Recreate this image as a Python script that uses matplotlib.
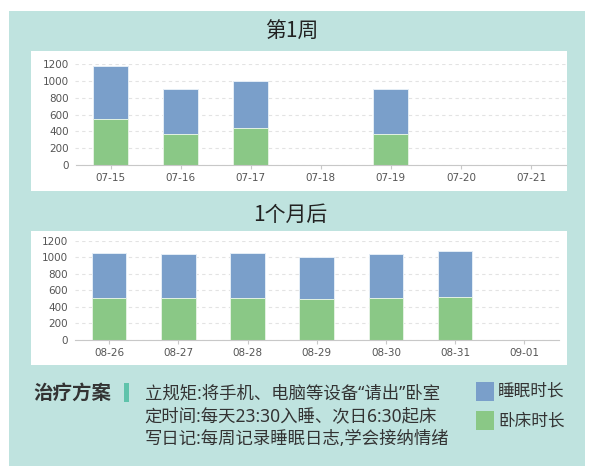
import matplotlib

matplotlib.use("Agg")
import matplotlib.pyplot as plt
from matplotlib.patches import Rectangle

plt.rcParams["font.family"] = ["Noto Sans CJK SC", "DejaVu Sans"]

# week 1 (minutes)
week1_days = ["07-15", "07-16", "07-17", "07-18", "07-19", "07-20", "07-21"]
week1_sleep = [1180, 903, 1001, 0, 903, 0, 0]
week1_bed = [543, 365, 443, 0, 368, 0, 0]

# one month later
month_days = ["08-26", "08-27", "08-28", "08-29", "08-30", "08-31", "09-01"]
month_sleep = [1054, 1035, 1047, 1003, 1035, 1075, 0]
month_bed = [511, 503, 511, 491, 503, 523, 0]

y_ticks = [0, 200, 400, 600, 800, 1000, 1200]

plan_title = "治疗方案"
plan_lines = [
    "立规矩:将手机、电脑等设备“请出”卧室",
    "定时间:每天23:30入睡、次日6:30起床",
    "写日记:每周记录睡眠日志,学会接纳情绪",
]
legend_labels = ["睡眠时长", "卧床时长"]

BLUE = "#7a9fca"
GREEN = "#8ac886"
TEAL = "#bfe3df"
W, H = 593, 474


def fx(px):
    return px / W


def fy(py):
    return 1 - py / H


def box(fig, x0, y0, x1, y1, color):
    fig.patches.append(Rectangle((fx(x0), fy(y1)), (x1 - x0) / W, (y1 - y0) / H,
                                 transform=fig.transFigure, facecolor=color,
                                 edgecolor="none", zorder=-5))


def bar_panel(fig, rect, days, sleep, bed):
    x0, y0, x1, y1 = rect
    ax = fig.add_axes([fx(x0), fy(y1), (x1 - x0) / W, (y1 - y0) / H])
    ax.set_facecolor("none")
    pos = range(len(days))
    ax.bar(pos, sleep, width=0.5, color=BLUE, edgecolor="#e4edf6", linewidth=0.7, zorder=2)
    ax.bar(pos, bed, width=0.5, color=GREEN, edgecolor="#e4f2e3", linewidth=0.7, zorder=3)
    ax.set_xlim(-0.5, len(days) - 0.5)
    ax.set_ylim(0, 1200)
    ax.set_yticks(y_ticks)
    ax.set_xticks(list(pos))
    ax.set_xticklabels(days)
    ax.grid(axis="y", color="#e3e3e3", linestyle=(0, (3, 3)), linewidth=0.8, zorder=1)
    for side in ("top", "right", "left"):
        ax.spines[side].set_visible(False)
    ax.spines["bottom"].set_color("#c8c8c8")
    ax.spines["bottom"].set_zorder(4)
    ax.tick_params(axis="y", length=0, pad=4.5, labelsize=7.5, labelcolor="#555555")
    ax.tick_params(axis="x", length=3, color="#c8c8c8", pad=3, labelsize=7.5, labelcolor="#555555")
    for lab in ax.get_xticklabels() + ax.get_yticklabels():
        lab.set_fontfamily(["DejaVu Sans"])
    return ax


fig = plt.figure(figsize=(W / 100, H / 100), dpi=100)
fig.patch.set_facecolor("white")

box(fig, 9, 11, 585, 466, TEAL)
box(fig, 31, 51, 567, 191, "white")
box(fig, 31, 231, 567, 365, "white")

fig.text(fx(291.5), fy(32), "第1周", ha="center", va="center", fontsize=15,
         fontweight="medium", color="#222222")
fig.text(fx(290), fy(215), "1个月后", ha="center", va="center", fontsize=15,
         fontweight="medium", color="#222222")

bar_panel(fig, (75.5, 64, 566, 165), week1_days, week1_sleep, week1_bed)
bar_panel(fig, (74.5, 240.7, 559, 340), month_days, month_sleep, month_bed)

fig.text(fx(33), fy(393.5), plan_title, ha="left", va="center", fontsize=14,
         fontweight="bold", color="#333333")
box(fig, 124, 383, 129, 402, "#5fc3ab")
for i, line in enumerate(plan_lines):
    fig.text(fx(144.5), fy(393 + i * 23), line, ha="left", va="center",
             fontsize=12.5, color="#333333", family=["Noto Sans", "Noto Sans CJK SC"])

for i, (label, color) in enumerate(zip(legend_labels, [BLUE, GREEN])):
    top = 381.7 + i * 29.5
    box(fig, 476, top, 494, top + 19, color)
    fig.text(fx(498), fy(top + 9.5), label, ha="left", va="center",
             fontsize=12, color="#333333")

fig.savefig("out.png", dpi=100, facecolor="white")
